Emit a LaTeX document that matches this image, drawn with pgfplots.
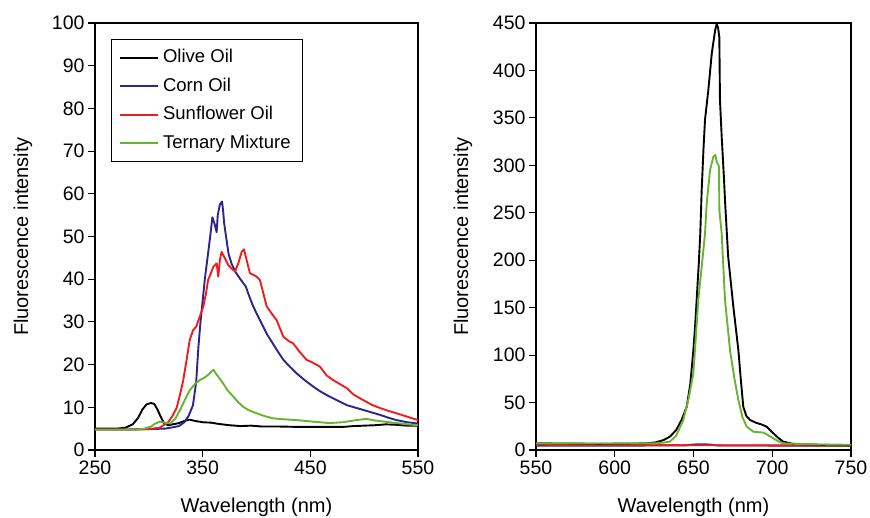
\documentclass[border=0pt]{standalone}
\usepackage{fontspec}
\setmainfont{Liberation Sans}
\usepackage{pgfplots}
\pgfplotsset{compat=1.18}

\definecolor{oliveoil}{RGB}{0,0,0}
\definecolor{corn}{RGB}{46,36,140}
\definecolor{sunfl}{RGB}{236,30,30}
\definecolor{tern}{RGB}{102,180,50}

\pgfplotsset{
  spec/.style={
    scale only axis,
    anchor=south west,
    height=427pt,
    axis line style={line width=1.1pt},
    every tick/.style={line width=1.1pt, black},
    major tick length=7pt,
    tick align=outside,
    xtick pos=bottom,
    ytick pos=left,
    /pgf/number format/assume math mode=true,
    /pgf/number format/1000 sep={},
    tick label style={font=\fontsize{19.5}{23}\selectfont},
    xlabel={Wavelength (nm)},
    ylabel={Fluorescence intensity},
    every axis x label/.style={at={(axis description cs:0.5,-0.1475)}, anchor=base,
      font=\fontsize{20}{24}\selectfont},
    every axis plot post/.append style={line width=1.9pt, mark=none, line join=round},
  },
}

\begin{document}
\begin{tikzpicture}
\path[use as bounding box] (0,0) rectangle (870pt,518pt);

\begin{axis}[spec,
  at={(95pt,68pt)}, width=323pt,
  xmin=250, xmax=550, ymin=0, ymax=100,
  xtick={250,350,450,550},
  ytick={0,10,...,100},
  every axis y label/.style={at={(axis description cs:-0.223,0.5)}, rotate=90, anchor=center,
    font=\fontsize{20}{24}\selectfont},
  legend cell align=left,
  legend image code/.code={\draw[#1, line width=1.9pt] (0pt,0pt) -- (38pt,0pt);},
  legend style={at={(0.0486,0.9625)}, anchor=north west, draw=black, line width=1pt,
    font=\fontsize{18.5}{22}\selectfont, inner xsep=8pt, inner ysep=4pt,
    nodes={inner sep=4pt, text height=15pt, text depth=5.5pt}},
]
\addplot[oliveoil] coordinates {
(250,5.0) (260,5.0) (270,5.0) (278,5.2) (285,6.0) (290,7.5) (294,9.5) (298,10.7)
(302,11.0) (305,10.8) (308,9.5) (311,7.8) (314,6.3) (318,5.8) (322,6.0) (328,6.3)
(333,6.8) (338,7.1) (343,6.8) (350,6.5) (358,6.4) (365,6.1) (375,5.8) (385,5.6)
(395,5.7) (405,5.5) (420,5.5) (440,5.4) (460,5.4) (480,5.4) (490,5.6) (500,5.7)
(510,5.8) (520,6.0) (530,5.9) (540,5.7) (550,5.7)
};
\addlegendentry{Olive Oil}
\addplot[corn] coordinates {
(250,4.8) (280,4.8) (300,4.9) (315,5.0) (322,5.3) (328,5.6) (333,6.5) (337,8.0)
(341,10.5) (344,16) (346,24) (348,30) (350,35) (352,40) (355,46) (357,50) (359,54.5)
(361,53) (363,51) (364,55) (366,57.5) (368,58.2) (369,56) (370,53) (372,49.5)
(374,46) (377,43.5) (381,41.5) (385,40) (390,38.3) (394,35.5) (397,33.6) (401,31.5)
(406,29) (410,27) (415,25) (420,23) (425,21.1) (431,19.5) (437,18) (445,16.3)
(453,14.8) (460,13.6) (468,12.5) (476,11.5) (484,10.5) (492,9.9) (499,9.4) (507,8.8)
(515,8.2) (522,7.6) (530,7.0) (540,6.5) (550,6.2)
};
\addlegendentry{Corn Oil}
\addplot[sunfl] coordinates {
(250,4.8) (290,4.8) (300,4.9) (310,5.2) (318,6.5) (322,8) (326,10) (329,13) (332,16.4)
(335,21) (338,25.8) (341,28) (344,28.9) (347,31) (350.6,33.6) (353,36.5) (355,39.8)
(357,41) (359.9,42.9) (363,43.7) (364.5,40.6) (366,44.5) (367.6,46.4) (370.7,44.9)
(373.8,43.3) (376.9,42.5) (380,41.8) (383.1,43.7) (386.2,46.4) (388.4,47.0)
(390.8,44.5) (393.9,41.4) (397,41.0) (400.1,40.6) (403.2,39.8) (409.5,33.6) (414,32)
(418.7,30.4) (425,26.5) (430,25.5) (434,25) (440,23) (446.6,21.1) (452,20.5)
(459,19.5) (465,17.5) (471,16.4) (477,15.5) (483.8,14.5) (490,13) (499,11.7)
(507,10.6) (515,9.8) (522,9.2) (530,8.6) (540,7.8) (550,7.0)
};
\addlegendentry{Sunflower Oil}
\addplot[tern] coordinates {
(250,4.8) (290,4.8) (296,5.0) (302,5.5) (306,6.2) (310,6.6) (315,6.4) (320,6.2)
(325,7.5) (329,9.4) (333,11.5) (338,14) (343,15.5) (347.5,16.4) (352,17.0) (355,17.6)
(358,18.3) (360,18.8) (362,18.0) (365,17.0) (369,15.6) (373,14.0) (378.5,12.5)
(383,11.2) (387.7,10.1) (393,9.3) (400,8.6) (408,7.9) (415.6,7.4) (425,7.2) (437,7.0)
(450,6.7) (468,6.3) (480,6.5) (490,6.9) (502,7.3) (510,6.9) (520,6.6) (530,6.3)
(540,6.0) (550,5.8)
};
\addlegendentry{Ternary Mixture}
\end{axis}

\begin{axis}[spec,
  at={(536pt,68pt)}, width=315pt,
  xmin=550, xmax=750, ymin=0, ymax=450,
  xtick={550,600,...,750},
  ytick={0,50,...,450},
  every axis y label/.style={at={(axis description cs:-0.232,0.5)}, rotate=90, anchor=center,
    font=\fontsize{20}{24}\selectfont},
]
\addplot[corn] coordinates {
(550,4.5) (600,4.6) (645,4.8) (650,5.8) (655,6.0) (660,5.8) (665,4.8) (750,4.5)
};
\addplot[sunfl] coordinates {
(550,5.5) (600,5.3) (650,5.0) (710,4.8) (750,4.5)
};
\addplot[oliveoil] coordinates {
(550,7) (570,6.8) (590,6.5) (610,6.8) (620,7) (626,8) (631,10.5) (635,14) (639,21)
(642.5,32) (645.7,45.6) (648,70) (649.9,105) (651,130) (652,158) (653.3,195)
(654.3,228) (655.2,274) (656.3,316) (657.3,348) (659.4,379) (661.6,418) (663.7,442)
(664.7,449) (665.6,445) (666.4,435) (666.8,369) (667.9,330) (669.4,284.5) (670,263)
(672,204) (675.3,151) (678.5,105) (680,75) (681.6,45.6) (683.5,36) (685.9,31.6)
(690,28.5) (693,27) (696.5,24.6) (700.7,17.6) (704,12.5) (707,8.8) (713,6.5)
(720,6) (730,5.5) (740,5.2) (750,5)
};
\addplot[tern] coordinates {
(550,7) (600,6.8) (625,7.0) (631,7.8) (635,8.8) (639,15) (643.5,31.6) (647,55)
(649.9,80.8) (651.5,120) (653,158) (655.2,193) (657.3,228) (658.4,260) (660.5,295)
(662.6,309) (663.8,311) (664.7,304) (666.2,298.6) (666.4,253) (667.9,228) (670,158)
(673.2,105) (676,75) (678.5,52.7) (681,35) (683.8,24.6) (688,19.3) (694.4,18.3)
(697,16) (700.7,12.3) (704,9) (707,7) (715,6.5) (730,5.8) (750,5.5)
};
\end{axis}
\end{tikzpicture}
\end{document}
